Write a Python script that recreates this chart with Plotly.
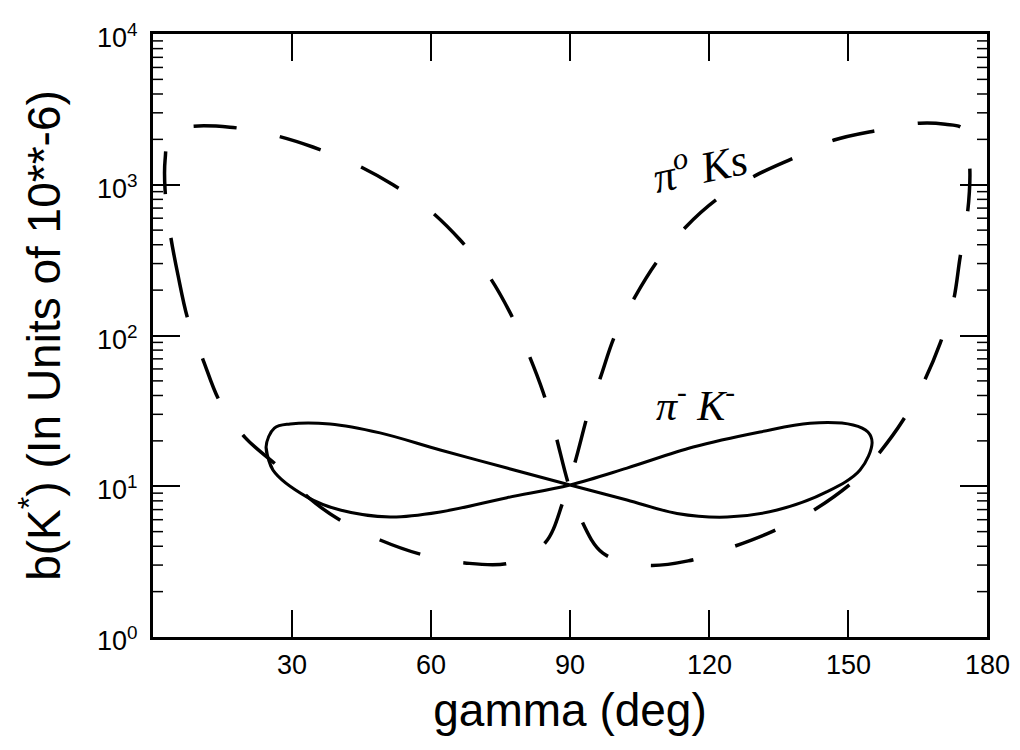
import numpy as np
import plotly.graph_objects as go

# Solid figure-eight: pi- K- branching fraction vs gamma (closed path, traced once)
pik_gamma = [24.4, 25.9, 33.2, 40.4, 51.2, 62.0, 76.4, 90.0, 102.3, 116.6, 131.0, 141.8,
             151.1, 154.3, 155.2, 152.6, 145.5, 134.7, 123.9, 113.1, 102.3, 90.0, 76.4,
             62.0, 49.0, 38.2, 29.6, 26.2, 24.4, 25.9]
pik_b = [18.2, 12.8, 8.5, 6.95, 6.25, 6.75, 8.4, 10.2, 13.2, 18.2, 22.9, 26.2,
         25.5, 22.9, 19.4, 12.8, 9.2, 6.95, 6.25, 6.6, 8.1, 10.2, 13.2,
         17.4, 22.6, 25.9, 25.9, 24.3, 18.2, 12.8]

# Dashed loop: pi0 Ks branching fraction vs gamma (closed path)
pi0ks_gamma = [3.7, 5.4, 7.6, 10.8, 14.5, 19.9, 27.0, 34.0, 41.0, 49.0, 58.3, 67.3, 77.0,
               84.6, 88.5, 91.1, 94.3, 96.5, 99.7, 104.0, 109.0, 115.0, 122.0, 130.0,
               138.6, 147.0, 156.5, 165.5, 171.0, 174.6, 175.8, 176.3, 176.2, 175.7,
               174.2, 172.7, 169.9, 166.2, 161.9, 156.3, 151.5, 141.8, 133.6, 124.5,
               115.5, 106.2, 97.1, 92.2, 89.6, 86.8, 84.2, 80.7, 77.0, 72.1, 66.3, 59.4,
               51.8, 43.2, 34.5, 25.9, 16.6, 6.9, 3.7, 2.6, 2.6, 3.7]
pi0ks_b = [479, 251, 126, 69, 36, 21, 13.5, 8.2, 5.8, 4.4, 3.5, 3.1, 3.1,
           4.2, 7.9, 14.5, 33.6, 52, 100, 180, 316, 525, 814, 1150,
           1520, 1980, 2300, 2560, 2520, 2380, 1900, 1250, 900, 617,
           331, 167, 89, 48, 27.5, 16, 11, 6.7, 5.0, 3.9,
           3.2, 3.0, 3.6, 6.2, 10.5, 22.5, 42, 80, 143, 259, 430, 690,
           1000, 1390, 1780, 2140, 2410, 2410, 2200, 1450, 930, 479]

x_ticks = [30, 60, 90, 120, 150, 180]
x_ticktext = ["30", "60", "90", "120", "150", "180"]
y_ticks = [1, 10, 100, 1000, 10000]
y_ticktext = ["10<sup>0</sup>", "10<sup>1</sup>", "10<sup>2</sup>", "10<sup>3</sup>", "10<sup>4</sup>"]
y_minor_ticks = [m * 10 ** k for k in range(4) for m in range(2, 10)]

FONT = "Liberation Sans, Arial, sans-serif"
X_RANGE = [0, 180]
Y_RANGE = [0, 4]
PLOT_W = 1020 - 153 - 33
MINOR_LEN = 10 / PLOT_W  # short tick, as a fraction of the plot width

fig = go.Figure()
fig.add_trace(go.Scatter(
    x=pi0ks_gamma, y=pi0ks_b, mode="lines",
    line=dict(color="black", width=3.5, dash="43px,44px", shape="spline", smoothing=1.0),
    showlegend=False, hoverinfo="skip"))
fig.add_trace(go.Scatter(
    x=pik_gamma, y=pik_b, mode="lines",
    line=dict(color="black", width=3, shape="spline", smoothing=1.0),
    showlegend=False, hoverinfo="skip"))

fig.update_layout(
    # box frame with long inward ticks mirrored on the opposite sides
    xaxis=dict(
        range=X_RANGE, tickmode="array", tickvals=x_ticks, showticklabels=False,
        showline=True, linecolor="black", linewidth=2.5, mirror="ticks",
        ticks="inside", ticklen=27, tickwidth=2, tickcolor="black",
        showgrid=False, zeroline=False,
        title=dict(text="gamma (deg)", font=dict(family=FONT, size=46, color="black"),
                   standoff=56),
    ),
    yaxis=dict(
        type="log", range=Y_RANGE, tickmode="array", tickvals=y_ticks,
        showticklabels=False,
        showline=True, linecolor="black", linewidth=2.5, mirror="ticks",
        ticks="inside", ticklen=27, tickwidth=2, tickcolor="black",
        showgrid=False, zeroline=False,
        title=dict(text="b(K<sup>*</sup>) (In Units of 10**-6)",
                   font=dict(family=FONT, size=46, color="black"), standoff=76),
    ),
)

# short ticks between the decades, on the left and right edges
for v in y_minor_ticks:
    for x0, x1 in ((0, MINOR_LEN), (1 - MINOR_LEN, 1)):
        fig.add_shape(type="line", xref="x domain", yref="y",
                      x0=x0, x1=x1, y0=v, y1=v,
                      line=dict(color="black", width=1.5))

# tick labels, placed on the axis scales
tick_font = dict(family=FONT, size=27, color="black")
for v, t in zip(x_ticks, x_ticktext):
    fig.add_annotation(x=v, xref="x", y=0, yref="paper", yanchor="top", yshift=-11,
                       text=t, showarrow=False, font=tick_font)
for v, t in zip(y_ticks, y_ticktext):
    fig.add_annotation(x=0, xref="paper", y=np.log10(v), yref="y", xanchor="right",
                       xshift=-13, yshift=-2, text=t, showarrow=False, font=tick_font)

hand = dict(family="Liberation Serif, serif", color="black")
fig.add_annotation(x=118, y=np.log10(1350), xref="x", yref="y",
                   text="<i>π<sup>o</sup> Ks</i>", showarrow=False, textangle=-12,
                   font=dict(size=44, **hand))
fig.add_annotation(x=117, y=np.log10(36), xref="x", yref="y",
                   text="<i>π<sup>-</sup> K<sup>-</sup></i>", showarrow=False,
                   font=dict(size=42, **hand))

fig.update_layout(
    width=1020, height=750,
    margin=dict(l=153, r=33, t=34, b=113, autoexpand=False),
    plot_bgcolor="white", paper_bgcolor="white",
)

fig.write_html("out.html")
